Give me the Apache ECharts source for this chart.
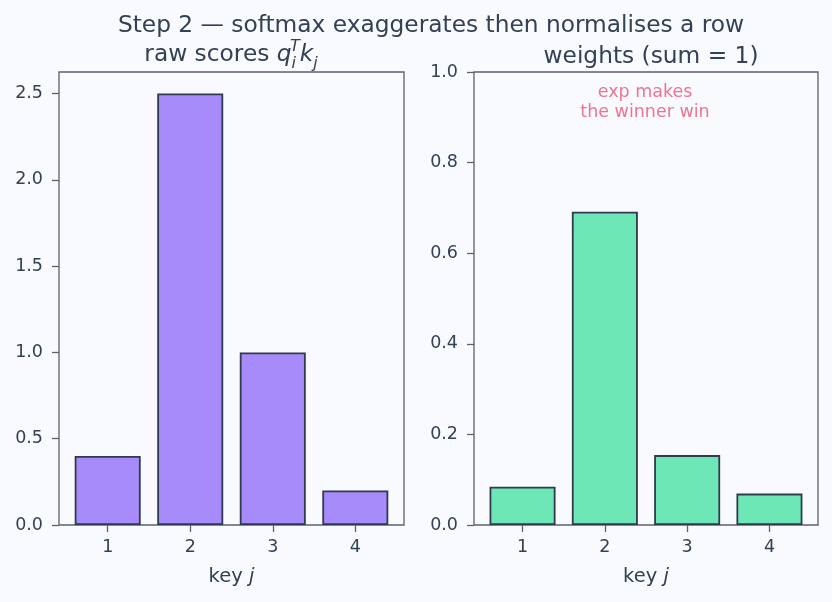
<!DOCTYPE html>
<html>
<head>
<meta charset="utf-8">
<script src="https://cdn.jsdelivr.net/npm/echarts@6/dist/echarts.min.js"></script>
<style>
  html, body { margin: 0; padding: 0; background: #f9fafd; }
  #chart { width: 832px; height: 602px; }
</style>
</head>
<body>
<div id="chart"></div>
<script>
// ---- data ----
const keys = [1, 2, 3, 4];
const rawScores = [0.4, 2.5, 1.0, 0.2];
const weights = [0.0847, 0.6916, 0.1543, 0.0693];
const leftTicks = [0, 0.5, 1.0, 1.5, 2.0, 2.5];
const rightTicks = [0, 0.2, 0.4, 0.6, 0.8, 1.0];
const xTicks = [1, 2, 3, 4];

const TEXT = '#334155';
const FRAME = '#5c6070';
const EDGE = '#2f3a4f';
const FONT = 'DejaVu Sans';
const TICK_FS = 17.5;
const LABEL_FS = 19.5;
const TITLE_FS = 23.3;

const chart = echarts.init(document.getElementById('chart'), null, { renderer: 'canvas' });

function xAxisDef(gi) {
  return {
    type: 'value', gridIndex: gi, min: 0.41, max: 4.59,
    splitLine: { show: false },
    axisLine: { show: false },
    axisTick: { show: true, customValues: xTicks, length: 7, lineStyle: { color: FRAME, width: 1.3 } },
    axisLabel: { customValues: xTicks, color: TEXT, fontSize: TICK_FS, fontFamily: FONT, margin: 13,
      formatter: v => String(v) },
    name: '{n|key }{it|j}', nameLocation: 'middle', nameGap: 42,
    nameTextStyle: { color: TEXT, fontSize: LABEL_FS, fontFamily: FONT,
      rich: { n: { fontSize: LABEL_FS, fontFamily: FONT, color: TEXT }, it: { fontSize: LABEL_FS, fontFamily: FONT, color: TEXT, fontStyle: 'italic' } } }
  };
}
function yAxisDef(gi, max, ticks) {
  return {
    type: 'value', gridIndex: gi, min: 0, max: max,
    splitLine: { show: false },
    axisLine: { show: false },
    axisTick: { show: true, customValues: ticks, length: 7, lineStyle: { color: FRAME, width: 1.3 } },
    axisLabel: { customValues: ticks, color: TEXT, fontSize: TICK_FS, fontFamily: FONT, margin: 16,
      formatter: v => v.toFixed(1) }
  };
}

const option = {
  backgroundColor: '#f9fafd',
  animation: false,
  textStyle: { fontFamily: FONT },
  title: [
    { text: 'Step 2 — softmax exaggerates then normalises a row', left: 426, top: 9, textAlign: 'center',
      textStyle: { color: TEXT, fontSize: TITLE_FS, fontWeight: 'normal', fontFamily: FONT } },
    { text: '{n|raw scores }{it|q}{sub|i}{sup|T}{it|k}{sub|j}', left: 226, top: 35, textAlign: 'center',
      textStyle: { color: TEXT, fontSize: TITLE_FS, fontWeight: 'normal', fontFamily: FONT,
        rich: {
          n: { fontSize: TITLE_FS, fontFamily: FONT, color: TEXT, lineHeight: 30 },
          it: { fontSize: TITLE_FS, fontFamily: FONT, color: TEXT, fontStyle: 'italic', lineHeight: 30 },
          sub: { fontSize: 16, fontFamily: FONT, color: TEXT, fontStyle: 'italic', lineHeight: 16, verticalAlign: 'bottom', padding: [0, 0, -2, 0] },
          sup: { fontSize: 16, fontFamily: FONT, color: TEXT, fontStyle: 'italic', lineHeight: 16, verticalAlign: 'top', padding: [-1, 0, 0, -6] }
        } } },
    { text: 'weights (sum = 1)', left: 646, top: 40, textAlign: 'center',
      textStyle: { color: TEXT, fontSize: TITLE_FS, fontWeight: 'normal', fontFamily: FONT } }
  ],
  grid: [
    { left: 59, top: 72, width: 345, height: 453, show: true, borderColor: FRAME, borderWidth: 1.3, backgroundColor: 'transparent' },
    { left: 474, top: 72, width: 344, height: 453, show: true, borderColor: FRAME, borderWidth: 1.3, backgroundColor: 'transparent' }
  ],
  xAxis: [xAxisDef(0), xAxisDef(1)],
  yAxis: [yAxisDef(0, 2.625, leftTicks), yAxisDef(1, 1.0, rightTicks)],
  graphic: [
    { type: 'text', x: 645, y: 82, style: { text: 'exp makes\nthe winner win', textAlign: 'center', textVerticalAlign: 'top',
      fill: '#ef7490', fontSize: 17.5, fontFamily: FONT, lineHeight: 20 } }
  ],
  series: [
    { type: 'bar', xAxisIndex: 0, yAxisIndex: 0, barWidth: 66,
      data: keys.map((k, i) => [k, rawScores[i]]),
      itemStyle: { color: '#a78bfa', borderColor: EDGE, borderWidth: 1.8 } },
    { type: 'bar', xAxisIndex: 1, yAxisIndex: 1, barWidth: 66,
      data: keys.map((k, i) => [k, weights[i]]),
      itemStyle: { color: '#6ee7b7', borderColor: EDGE, borderWidth: 1.8 } }
  ]
};
chart.setOption(option);
</script>
</body>
</html>
